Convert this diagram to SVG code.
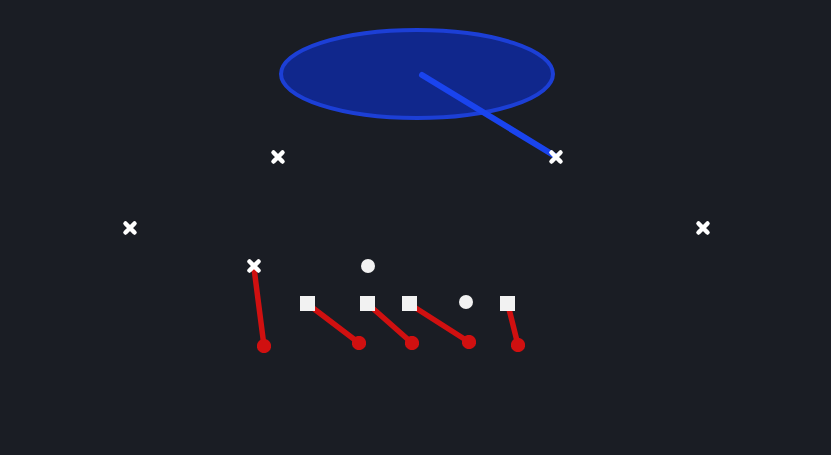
<svg xmlns="http://www.w3.org/2000/svg" width="831" height="455" viewBox="0 0 831 455">
<defs>
<style>
.x{stroke:#ffffff;stroke-width:4.5;stroke-linecap:round}
.sq{fill:#f2f2f2}
.ci{fill:#f2f2f2}
.rt{stroke:#d01010;stroke-width:5.5;stroke-linecap:round;fill:none}
</style>
<marker id="dot" viewBox="0 0 10 10" refX="5" refY="5" markerWidth="2.6" markerHeight="2.6" markerUnits="strokeWidth"><circle cx="5" cy="5" r="5" fill="#d01010"/></marker>
</defs>
<rect width="831" height="455" fill="#1a1d24"/>
<g id="zone">
<ellipse cx="417" cy="74" rx="136" ry="44" fill="#10278c" stroke="#1c3fd6" stroke-width="4"/>
</g>
<g id="connectors">
<line x1="422" y1="75" x2="555" y2="156" stroke="#1a44ee" stroke-width="6" stroke-linecap="round"/>
<line class="rt" x1="254" y1="268" x2="264" y2="346" marker-end="url(#dot)"/>
<line class="rt" x1="309" y1="305" x2="359" y2="343" marker-end="url(#dot)"/>
<line class="rt" x1="369" y1="305" x2="412" y2="343" marker-end="url(#dot)"/>
<line class="rt" x1="411" y1="305" x2="469" y2="342" marker-end="url(#dot)"/>
<line class="rt" x1="508" y1="305" x2="518" y2="345" marker-end="url(#dot)"/>
</g>
<g id="defender1"><path class="x" d="M273.5 152.5L282.5 161.5M282.5 152.5L273.5 161.5"/></g>
<g id="defender2"><path class="x" d="M551.5 152.5L560.5 161.5M560.5 152.5L551.5 161.5"/></g>
<g id="defender3"><path class="x" d="M125.5 223.5L134.5 232.5M134.5 223.5L125.5 232.5"/></g>
<g id="defender4"><path class="x" d="M698.5 223.5L707.5 232.5M707.5 223.5L698.5 232.5"/></g>
<g id="defender5"><path class="x" d="M249.5 261.5L258.5 270.5M258.5 261.5L249.5 270.5"/></g>
<g id="back1"><circle class="ci" cx="368" cy="266" r="7"/></g>
<g id="back2"><circle class="ci" cx="466" cy="302" r="7"/></g>
<g id="line1"><rect class="sq" x="300" y="296" width="15" height="15"/></g>
<g id="line2"><rect class="sq" x="360" y="296" width="15" height="15"/></g>
<g id="line3"><rect class="sq" x="402" y="296" width="15" height="15"/></g>
<g id="line4"><rect class="sq" x="500" y="296" width="15" height="15"/></g>
</svg>
